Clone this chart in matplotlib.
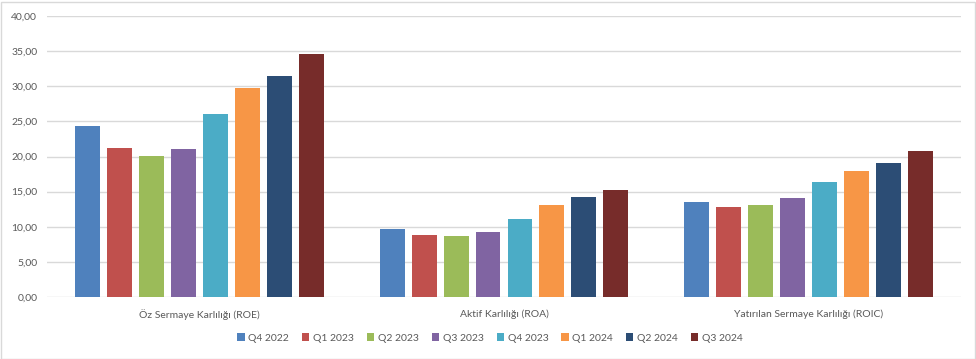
import matplotlib
matplotlib.use("Agg")
import matplotlib.pyplot as plt
import numpy as np
from matplotlib.patches import Rectangle

categories = ["Öz Sermaye Karlılığı (ROE)", "Aktif Karlılığı (ROA)", "Yatırılan Sermaye Karlılığı (ROIC)"]
series_names = ["Q4 2022", "Q1 2023", "Q2 2023", "Q3 2023", "Q4 2023", "Q1 2024", "Q2 2024", "Q3 2024"]
q4_2022 = [24.40, 9.67, 13.52]
q1_2023 = [21.28, 8.82, 12.81]
q2_2023 = [20.14, 8.67, 13.09]
q3_2023 = [21.13, 9.24, 14.09]
q4_2023 = [26.10, 11.09, 16.37]
q1_2024 = [29.79, 13.08, 17.93]
q2_2024 = [31.49, 14.22, 19.07]
q3_2024 = [34.60, 15.21, 20.78]
series_values = [q4_2022, q1_2023, q2_2023, q3_2023, q4_2023, q1_2024, q2_2024, q3_2024]
colors = ["#4F81BD", "#C0504D", "#9BBB59", "#8064A2", "#4BACC6", "#F79646", "#2C4D75", "#772C2A"]
yticks = [0, 5, 10, 15, 20, 25, 30, 35, 40]

plt.rcParams['font.family'] = ['Lato', 'DejaVu Sans']
text_color = "#595959"

fig = plt.figure(figsize=(9.76, 3.59), dpi=100)
ax = fig.add_axes([47/976, 62/359, 914/976, 281/359])

n = len(series_names)
pitch = 0.105
width = 0.082
x = np.arange(len(categories))
handles = []
for i, (name, vals, c) in enumerate(zip(series_names, series_values, colors)):
    offs = (i - (n - 1) / 2) * pitch
    h = ax.bar(x + offs, vals, width=width, color=c, label=name, zorder=3)
    handles.append(h)

ax.set_xlim(-0.5, len(categories) - 0.5)
ax.set_ylim(0, 40)
ax.set_yticks(yticks)
ax.set_yticklabels([f"{v:.2f}".replace(".", ",") for v in yticks], fontsize=7.5, color=text_color)
ax.set_xticks(x)
ax.set_xticklabels(categories, fontsize=7.5, color=text_color)
ax.tick_params(axis='both', length=0)
ax.tick_params(axis='y', pad=7)
ax.tick_params(axis='x', pad=9)
ax.grid(axis='y', color="#D9D9D9", linewidth=1, zorder=0)
for s in ax.spines.values():
    s.set_visible(False)

leg = fig.legend(handles=handles, labels=series_names, loc='center', bbox_to_anchor=(490/976, 1 - 338/359),
                 ncol=8, frameon=False, fontsize=7.5, handlelength=0.7, handleheight=0.7,
                 handletextpad=0.35, columnspacing=1.25)
for t in leg.get_texts():
    t.set_color(text_color)

fig.patches.append(Rectangle((0.5/976, 0.5/359), 974/976, 357/359, transform=fig.transFigure,
                             fill=False, edgecolor="#D9D9D9", linewidth=1))

fig.savefig("out.png", dpi=100)
